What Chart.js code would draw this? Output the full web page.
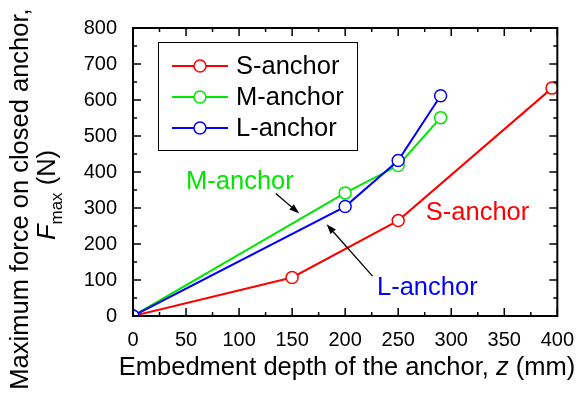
<!DOCTYPE html>
<html>
<head>
<meta charset="utf-8">
<script src="https://cdn.jsdelivr.net/npm/chart.js@4.4.0/dist/chart.umd.min.js"></script>
<style>
  html, body { margin: 0; padding: 0; background: #fff; }
  #wrap { width: 586px; height: 395px; }
</style>
</head>
<body>
<div id="wrap"><canvas id="chart" width="586" height="395"></canvas></div>
<script>
// Embedment depth z (mm) and max force Fmax (N) per anchor type
const depthS = [0, 150, 250, 395];
const forceS = [0, 107, 265, 633];
const depthM = [0, 200, 250, 290];
const forceM = [0, 342, 418, 551];
const depthL = [0, 200, 250, 290];
const forceL = [0, 304, 432, 612];

const seriesNames = ['S-anchor', 'M-anchor', 'L-anchor'];
const seriesColors = ['#ff0000', '#00e600', '#0000ff'];

const xTicks = [0, 50, 100, 150, 200, 250, 300, 350, 400];
const yTicks = [0, 100, 200, 300, 400, 500, 600, 700, 800];

const FONT = '"Liberation Sans", Arial, sans-serif';
Chart.defaults.font.family = FONT;
Chart.defaults.color = '#000';

function toPoints(xs, ys) {
    return xs.map((x, i) => ({ x: x, y: ys[i] }));
}

function makeSet(idx, xs, ys, order) {
    return {
        label: seriesNames[idx],
        data: toPoints(xs, ys),
        borderColor: seriesColors[idx],
        backgroundColor: '#fff',
        borderWidth: 2,
        pointRadius: 6,
        pointBorderWidth: 1.5,
        pointBackgroundColor: '#fff',
        pointBorderColor: seriesColors[idx],
        tension: 0,
        clip: 0,
        order: order
    };
}

// box, inward ticks, legend, notes and axis titles
const decorations = {
    id: 'decorations',
    afterDatasetsDraw(chart) {
        const ctx = chart.ctx;
        const a = chart.chartArea;
        const xs = chart.scales.x, ys = chart.scales.y;
        ctx.save();
        ctx.strokeStyle = '#000';
        ctx.lineWidth = 2;
        ctx.strokeRect(a.left, a.top, a.right - a.left, a.bottom - a.top);

        ctx.lineWidth = 1.5;
        ctx.beginPath();
        for (let v = 0; v <= 400; v += 25) {
            const px = xs.getPixelForValue(v);
            const len = v % 50 === 0 ? 8 : 4;
            ctx.moveTo(px, a.bottom); ctx.lineTo(px, a.bottom - len);
            ctx.moveTo(px, a.top); ctx.lineTo(px, a.top + len);
        }
        for (let v = 0; v <= 800; v += 50) {
            const py = ys.getPixelForValue(v);
            const len = v % 100 === 0 ? 8 : 4;
            ctx.moveTo(a.left, py); ctx.lineTo(a.left + len, py);
            ctx.moveTo(a.right, py); ctx.lineTo(a.right - len, py);
        }
        ctx.stroke();

        const normal = '25.5px ' + FONT, ital = 'italic 25.5px ' + FONT;

        // legend
        ctx.lineWidth = 1;
        ctx.strokeRect(158.5, 42.5, 199, 108);
        ctx.font = normal;
        ctx.textBaseline = 'middle';
        ctx.textAlign = 'left';
        seriesNames.forEach((name, i) => {
            const y = 66 + i * 31;
            ctx.strokeStyle = seriesColors[i];
            ctx.lineWidth = 2;
            ctx.beginPath();
            ctx.moveTo(172, y); ctx.lineTo(228, y);
            ctx.stroke();
            ctx.beginPath();
            ctx.arc(200, y, 6, 0, Math.PI * 2);
            ctx.fillStyle = '#fff';
            ctx.fill();
            ctx.lineWidth = 1.5;
            ctx.stroke();
            ctx.fillStyle = '#000';
            ctx.fillText(name, 236, y + 1);
        });

        // in-plot notes
        ctx.textBaseline = 'alphabetic';
        const note = (text, color, x, y) => {
            ctx.fillStyle = color;
            ctx.fillText(text, xs.getPixelForValue(x), ys.getPixelForValue(y));
        };
        note('M-anchor', seriesColors[1], 50, 354);
        note('L-anchor', seriesColors[2], 230, 58);
        note('S-anchor', seriesColors[0], 276, 266);

        const arrow = (x1, y1, x2, y2) => {
            const p1 = [xs.getPixelForValue(x1), ys.getPixelForValue(y1)];
            const p2 = [xs.getPixelForValue(x2), ys.getPixelForValue(y2)];
            const ang = Math.atan2(p2[1] - p1[1], p2[0] - p1[0]);
            const hl = 10, hw = 3.5;
            ctx.strokeStyle = '#000';
            ctx.fillStyle = '#000';
            ctx.lineWidth = 1.3;
            ctx.beginPath();
            ctx.moveTo(p1[0], p1[1]);
            ctx.lineTo(p2[0] - Math.cos(ang) * hl, p2[1] - Math.sin(ang) * hl);
            ctx.stroke();
            ctx.beginPath();
            ctx.moveTo(p2[0], p2[1]);
            ctx.lineTo(p2[0] - Math.cos(ang) * hl - Math.sin(ang) * hw, p2[1] - Math.sin(ang) * hl + Math.cos(ang) * hw);
            ctx.lineTo(p2[0] - Math.cos(ang) * hl + Math.sin(ang) * hw, p2[1] - Math.sin(ang) * hl - Math.cos(ang) * hw);
            ctx.closePath();
            ctx.fill();
        };
        arrow(134.6, 340, 156.7, 285);
        arrow(225.8, 110.7, 182.5, 254.7);

        // x axis title
        ctx.fillStyle = '#000';
        const xa = 'Embedment depth of the anchor, ';
        const xb = 'z';
        const xc = ' (mm)';
        ctx.font = normal;
        const wa = ctx.measureText(xa).width, wc = ctx.measureText(xc).width;
        ctx.font = ital;
        const wb = ctx.measureText(xb).width;
        let tx = 347 - (wa + wb + wc) / 2;
        ctx.font = normal; ctx.fillText(xa, tx, 375); tx += wa;
        ctx.font = ital; ctx.fillText(xb, tx, 375); tx += wb;
        ctx.font = normal; ctx.fillText(xc, tx, 375);

        // y axis title (two lines, rotated)
        ctx.save();
        ctx.rotate(-Math.PI / 2);
        ctx.font = normal;
        ctx.textAlign = 'center';
        ctx.fillText('Maximum force on closed anchor,', -199, 28);
        ctx.textAlign = 'left';
        const sub = '17px ' + FONT;
        ctx.font = ital; const wF = ctx.measureText('F').width;
        ctx.font = sub; const wS = ctx.measureText('max').width;
        ctx.font = normal; const wN = ctx.measureText(' (N)').width;
        let ty = -195 - (wF + wS + wN) / 2;
        ctx.font = ital; ctx.fillText('F', ty, 55); ty += wF;
        ctx.font = sub; ctx.fillText('max', ty, 62); ty += wS;
        ctx.font = normal; ctx.fillText(' (N)', ty, 55);
        ctx.restore();

        ctx.restore();
    }
};

new Chart(document.getElementById('chart'), {
    type: 'line',
    data: {
        datasets: [
            makeSet(0, depthS, forceS, 3),
            makeSet(1, depthM, forceM, 2),
            makeSet(2, depthL, forceL, 1)
        ]
    },
    options: {
        responsive: false,
        animation: false,
        events: [],
        layout: { padding: { left: 0, top: 28, right: 19, bottom: 0 } },
        plugins: { legend: { display: false }, tooltip: { enabled: false } },
        scales: {
            x: {
                type: 'linear',
                min: 0, max: 400,
                afterBuildTicks: s => { s.ticks = xTicks.map(v => ({ value: v })); },
                afterFit: s => { s.height = 79; },
                grid: { display: false, drawTicks: false },
                border: { display: false },
                ticks: { font: { size: 20 }, padding: 12, maxRotation: 0, color: '#000' }
            },
            y: {
                type: 'linear',
                min: 0, max: 800,
                afterBuildTicks: s => { s.ticks = yTicks.map(v => ({ value: v })); },
                afterFit: s => { s.width = 133; },
                grid: { display: false, drawTicks: false },
                border: { display: false },
                ticks: { font: { size: 20 }, padding: 16, color: '#000' }
            }
        }
    },
    plugins: [decorations]
});
</script>
</body>
</html>
